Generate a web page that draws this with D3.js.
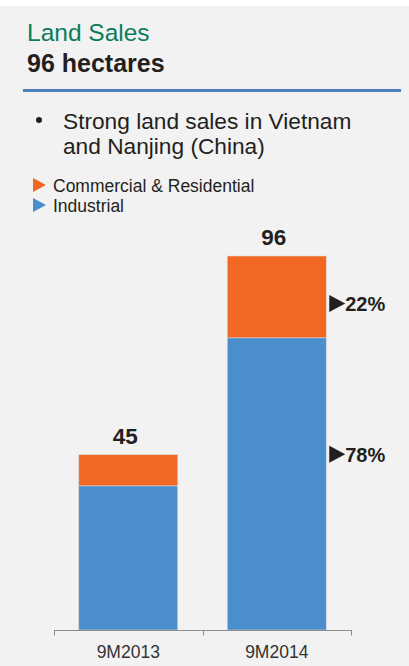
<!DOCTYPE html>
<html>
<head>
<meta charset="utf-8">
<script src="https://cdn.jsdelivr.net/npm/d3@7"></script>
<style>
  html, body { margin: 0; padding: 0; background: #ffffff; }
  svg { display: block; }
  text { font-family: "Liberation Sans", Arial, sans-serif; }
</style>
</head>
<body>
<svg id="chart" width="409" height="666"></svg>
<script>
// Land sales (hectares) by period, split by segment
const periods = ["9M2013", "9M2014"];
const industrial = [37, 75];
const commercial = [8, 21];
const totals = [45, 96];
const seriesNames = ["Commercial & Residential", "Industrial"];
const seriesColors = ["#f26822", "#4a8ecc"];

const svg = d3.select("#chart");
const W = 409, H = 666;

// panel background
svg.append("rect").attr("x", 0).attr("y", 6).attr("width", W).attr("height", H - 6).attr("fill", "#f2f2f2");

// heading
svg.append("text").attr("x", 27).attr("y", 41)
  .attr("font-size", 24.5).attr("fill", "#0a7d5a").text("Land Sales");
svg.append("text").attr("x", 27).attr("y", 72)
  .attr("font-size", 25).attr("font-weight", "bold").attr("fill", "#231f20").text("96 hectares");
svg.append("rect").attr("x", 23).attr("y", 89).attr("width", 378).attr("height", 3).attr("fill", "#4f81bd");

// bullet note
svg.append("circle").attr("cx", 39).attr("cy", 120).attr("r", 3).attr("fill", "#231f20");
const note = svg.append("text").attr("font-size", 22.7).attr("fill", "#231f20");
note.append("tspan").attr("x", 63).attr("y", 129).text("Strong land sales in Vietnam");
note.append("tspan").attr("x", 63).attr("y", 154).text("and Nanjing (China)");

// legend
const legend = svg.append("g");
seriesNames.forEach((name, i) => {
  const y0 = 178 + i * 20;
  legend.append("path")
    .attr("d", `M33,${y0} L46,${y0 + 7} L33,${y0 + 14} Z`)
    .attr("fill", seriesColors[i]);
  legend.append("text").attr("x", 53).attr("y", y0 + 14)
    .attr("font-size", 17.5).attr("fill", "#231f20").text(name);
});

// scales
const x = d3.scaleBand().domain(periods).range([54, 351])
  .paddingInner(1 / 3).paddingOuter(1 / 6);
const y = d3.scaleLinear().domain([0, 96]).range([630, 256]);

const rows = periods.map((p, i) => ({
  period: p, industrial: industrial[i], commercial: commercial[i], total: totals[i]
}));
const stack = d3.stack().keys(["industrial", "commercial"])(rows);
const keyColor = { industrial: seriesColors[1], commercial: seriesColors[0] };

const bars = svg.append("g");
stack.forEach(layer => {
  bars.selectAll(null).data(layer).enter().append("rect")
    .attr("x", d => x(d.data.period))
    .attr("y", d => y(d[1]))
    .attr("width", x.bandwidth())
    .attr("height", d => y(d[0]) - y(d[1]))
    .attr("fill", keyColor[layer.key])
    .attr("stroke", "#d9d9d9").attr("stroke-width", 0.6);
});

// totals above bars
svg.selectAll(null).data(rows).enter().append("text")
  .attr("x", d => x(d.period) + x.bandwidth() / 2 - 3)
  .attr("y", d => y(d.total) - 11)
  .attr("text-anchor", "middle").attr("font-size", 22.5).attr("font-weight", "bold")
  .attr("fill", "#231f20").text(d => d.total);

// share labels beside latest bar
const last = rows[rows.length - 1];
const shares = [
  { key: "commercial", pct: Math.round(last.commercial / last.total * 100), yb: y(last.total) + 55 },
  { key: "industrial", pct: Math.round(last.industrial / last.total * 100), yb: y(last.industrial) + 124 }
];
const sx = x(last.period) + x.bandwidth() + 3;
shares.forEach(s => {
  svg.append("path")
    .attr("d", `M${sx},${s.yb - 16} L${sx + 16},${s.yb - 7.5} L${sx},${s.yb + 1} Z`)
    .attr("fill", "#231f20");
  svg.append("text").attr("x", sx + 16).attr("y", s.yb)
    .attr("font-size", 20).attr("font-weight", "bold").attr("fill", "#231f20")
    .text(s.pct + "%");
});

// category axis with boundary ticks
const axis = svg.append("g");
const [r0, r1] = x.range();
const step = x.step();
axis.append("line").attr("x1", r0).attr("x2", r1).attr("y1", 630.5).attr("y2", 630.5)
  .attr("stroke", "#8c8c8c").attr("stroke-width", 1);
d3.range(periods.length + 1).forEach(i => {
  const tx = Math.round(r0 + i * (r1 - r0) / periods.length) + 0.5;
  axis.append("line").attr("x1", tx).attr("x2", tx).attr("y1", 630).attr("y2", 635.5)
    .attr("stroke", "#8c8c8c").attr("stroke-width", 1);
});
axis.selectAll(null).data(periods).enter().append("text")
  .attr("x", d => x(d) + x.bandwidth() / 2)
  .attr("y", 657.5)
  .attr("text-anchor", "middle").attr("font-size", 17.5).attr("fill", "#333333")
  .text(d => d);
</script>
</body>
</html>
